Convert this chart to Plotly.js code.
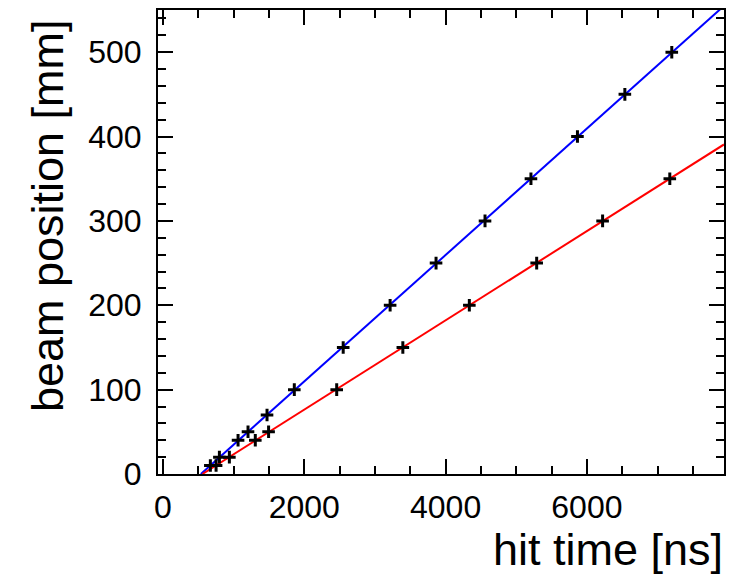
<!DOCTYPE html>
<html>
<head>
<meta charset="utf-8">
<script src="https://cdn.plot.ly/plotly-3.0.1.min.js"></script>
<style>html,body{margin:0;padding:0;background:#fff;}#chart{width:740px;height:577px;}</style>
</head>
<body>
<div id="chart"></div>
<script>
// Measured points (hit time [ns], beam position [mm])
const blueX = [671, 799, 1063, 1204, 1473, 1859, 2551, 3215, 3865, 4558, 5208, 5866, 6537, 7201];
const blueY = [10, 20, 40, 50, 70, 100, 150, 200, 250, 300, 350, 400, 450, 500];
const redX = [752, 940, 1307, 1495, 2459, 3395, 4336, 5289, 6222, 7173];
const redY = [10, 20, 40, 50, 100, 150, 200, 250, 300, 350];
const xTickVals = [0, 2000, 4000, 6000];
const yTickVals = [0, 100, 200, 300, 400, 500];
const xTitle = 'hit time [ns]';
const yTitle = 'beam position [mm]';

// least-squares straight-line fit of the points
function fit(xs, ys) {
  const n = xs.length;
  let sx = 0, sy = 0, sxx = 0, sxy = 0;
  for (let i = 0; i < n; i++) { sx += xs[i]; sy += ys[i]; sxx += xs[i]*xs[i]; sxy += xs[i]*ys[i]; }
  const b = (n*sxy - sx*sy) / (n*sxx - sx*sx);
  const a = (sy - b*sx) / n;
  return {a, b};
}
function fitLine(xs, ys, xEnd) {
  const f = fit(xs, ys);
  const x0 = -f.a / f.b;
  return {x: [x0, xEnd], y: [0, f.a + f.b*xEnd]};
}
const xRange = [-70, 7940];
const yRange = [0, 550];
const bl = fitLine(blueX, blueY, xRange[1]);
const rl = fitLine(redX, redY, xRange[1]);

const FONT = '"Liberation Sans", Arial, Helvetica, sans-serif';
const markerStyle = {symbol: 'cross-thin', size: 9, line: {color: '#000', width: 3}, color: '#000'};

const traces = [
  {x: bl.x, y: bl.y, mode: 'lines', line: {color: '#0000ff', width: 2}, hoverinfo: 'skip'},
  {x: rl.x, y: rl.y, mode: 'lines', line: {color: '#ff0000', width: 2}, hoverinfo: 'skip'},
  {x: blueX, y: blueY, mode: 'markers', marker: markerStyle, cliponaxis: false},
  {x: redX, y: redY, mode: 'markers', marker: markerStyle, cliponaxis: false}
];

const axisCommon = {
  showgrid: false, zeroline: false,
  showline: true, linecolor: '#000', linewidth: 2, mirror: 'allticks',
  ticks: 'inside', ticklen: 15, tickwidth: 2, tickcolor: '#000',
  tickfont: {family: FONT, size: 32, color: '#000'},
};

const layout = {
  width: 740, height: 577,
  margin: {l: 157.5, r: 16, t: 9.5, b: 102.5},
  paper_bgcolor: '#fff', plot_bgcolor: '#fff',
  showlegend: false,
  xaxis: Object.assign({}, axisCommon, {
    range: xRange, tickvals: xTickVals, ticktext: xTickVals.map(String),
    ticklabelstandoff: 4,
    minor: {dtick: 500, tick0: 0, ticks: 'inside', ticklen: 8, tickwidth: 2, tickcolor: '#000', showgrid: false}
  }),
  yaxis: Object.assign({}, axisCommon, {
    range: yRange, tickvals: yTickVals, ticktext: yTickVals.map(String),
    ticklabelstandoff: 8,
    minor: {dtick: 20, tick0: 0, ticks: 'inside', ticklen: 8, tickwidth: 2, tickcolor: '#000', showgrid: false}
  }),
  annotations: [
    {text: xTitle, xref: 'paper', yref: 'paper', x: 1.002, y: -0.162, xanchor: 'right', yanchor: 'middle',
     showarrow: false, font: {family: FONT, size: 45, color: '#000'}},
    {text: yTitle, xref: 'paper', yref: 'paper', x: -0.195, y: 0.985, xanchor: 'center', yanchor: 'top',
     textangle: -90, showarrow: false, font: {family: FONT, size: 45, color: '#000'}}
  ]
};

Plotly.newPlot('chart', traces, layout, {staticPlot: true, displayModeBar: false});
</script>
</body>
</html>
